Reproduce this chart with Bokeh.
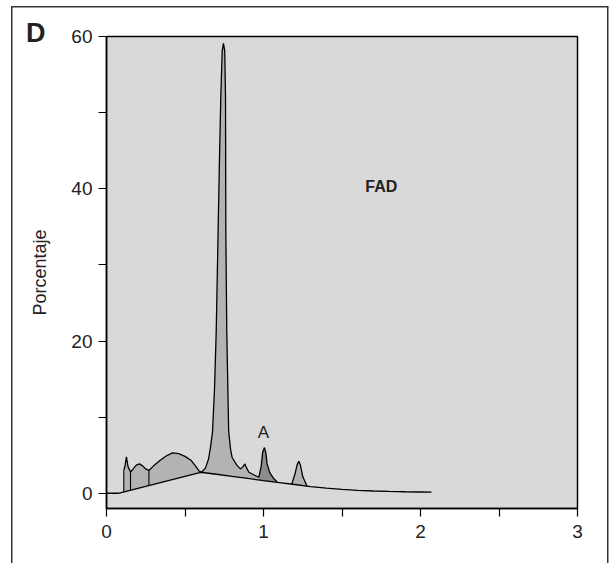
import numpy as np
from bokeh.plotting import figure
from bokeh.models import Range1d, FixedTicker, Label, Div
from bokeh.layouts import column
from bokeh.embed import file_html
from bokeh.resources import INLINE

# baseline (drawn line under the peaks)
base_x = [0.0, 0.075, 0.60, 0.70, 0.80, 0.90, 1.00, 1.10, 1.20, 1.30, 1.40, 1.50, 1.60, 1.70, 1.80, 1.90, 2.00, 2.07]
base_y = [0.0, 0.0, 2.76, 2.50, 2.22, 1.95, 1.65, 1.40, 1.15, 0.88, 0.68, 0.50, 0.38, 0.30, 0.24, 0.20, 0.17, 0.15]

# peak segments (x, top of curve)
seg1_x = [0.110, 0.118, 0.127, 0.137, 0.153]
seg1_y = [3.0, 3.6, 4.8, 3.5, 2.8]
seg2_x = [0.153, 0.17, 0.19, 0.21, 0.23, 0.25, 0.27]
seg2_y = [2.8, 3.2, 3.7, 3.86, 3.6, 3.2, 3.0]
seg3_x = [0.27, 0.30, 0.34, 0.38, 0.42, 0.46, 0.50, 0.54, 0.57, 0.59, 0.605]
seg3_y = [3.0, 3.6, 4.3, 4.9, 5.3, 5.2, 4.85, 4.3, 3.5, 2.9, 2.76]
main_x = [0.605, 0.63, 0.65, 0.662, 0.675, 0.688, 0.699, 0.711, 0.719, 0.728, 0.737, 0.745,
          0.753, 0.758, 0.760, 0.766, 0.773, 0.778, 0.79, 0.80, 0.83, 0.853, 0.87, 0.881, 0.893, 0.907, 0.94, 0.97]
main_y = [2.76, 3.3, 4.5, 6.0, 8.0, 13.7, 21.4, 34.5, 43.3, 52.0, 58.1, 59.1,
          58.1, 52.0, 34.5, 21.4, 13.7, 8.2, 5.8, 4.7, 3.7, 3.2, 3.5, 3.86, 3.3, 2.76, 2.4, 2.1]
peakA_x = [0.97, 0.985, 0.995, 1.006, 1.015, 1.023, 1.04, 1.066, 1.087]
peakA_y = [2.1, 3.5, 5.4, 6.0, 5.3, 3.86, 2.7, 1.9, 1.5]
peak6_x = [1.18, 1.20, 1.215, 1.225, 1.235, 1.25, 1.278]
peak6_y = [1.2, 2.5, 3.8, 4.2, 3.7, 2.2, 0.9]

x_ticks = [0, 1, 2, 3]
x_minor = [0.5, 1.5, 2.5]
y_ticks = [0, 20, 40, 60]
y_minor = [10, 30, 50]

LIGHT = "#b3b3b3"
DARK = "#8c8c8c"
BG = "#d9d9d9"
TXT = "#222222"

p = figure(width=615, height=563, output_backend="svg", toolbar_location=None,
           x_range=Range1d(0, 3), y_range=Range1d(-2, 60),
           min_border_left=106, min_border_right=38, min_border_top=36, min_border_bottom=55)
p.background_fill_color = BG
p.border_fill_color = None
# outer panel frame (top, left, right lines) drawn as page background behind the transparent border
p.styles = {
    "background": ("linear-gradient(#333,#333) 11px 6px / 597px 1.5px no-repeat, "
                   "linear-gradient(#333,#333) 11px 6px / 1.5px 600px no-repeat, "
                   "linear-gradient(#333,#333) 607px 6px / 1.5px 600px no-repeat, white")
}
p.outline_line_color = "black"
p.outline_line_width = 1.5
p.grid.visible = False

for ax in (p.xaxis[0], p.yaxis[0]):
    ax.axis_line_color = "black"
    ax.axis_line_width = 1.5
    ax.major_tick_line_color = "black"
    ax.minor_tick_line_color = "black"
    ax.major_tick_line_width = 1.2
    ax.minor_tick_line_width = 1.2
    ax.major_tick_out = 8
    ax.major_tick_in = 0
    ax.minor_tick_out = 8
    ax.minor_tick_in = 0
    ax.major_label_text_font = "Liberation Sans"
    ax.major_label_text_font_size = "19px"
    ax.major_label_text_color = TXT

p.xaxis[0].ticker = FixedTicker(ticks=x_ticks, minor_ticks=x_minor)
p.yaxis[0].ticker = FixedTicker(ticks=y_ticks, minor_ticks=y_minor)
p.xaxis[0].major_label_standoff = 8
p.yaxis[0].major_label_standoff = 6
p.yaxis[0].axis_label = "Porcentaje"
p.yaxis[0].axis_label_text_font = "Liberation Sans"
p.yaxis[0].axis_label_text_font_style = "normal"
p.yaxis[0].axis_label_text_font_size = "18px"
p.yaxis[0].axis_label_text_color = TXT
p.yaxis[0].axis_label_standoff = 18

def base_at(xs):
    return np.interp(xs, base_x, base_y)

segments = [(seg1_x, seg1_y, LIGHT), (seg2_x, seg2_y, LIGHT), (seg3_x, seg3_y, LIGHT),
            (main_x, main_y, LIGHT), (peakA_x, peakA_y, DARK), (peak6_x, peak6_y, LIGHT)]
for sx, sy, col in segments:
    sx = np.array(sx)
    p.varea(x=sx, y1=base_at(sx), y2=sy, fill_color=col)

# curve outline
curve_x = seg1_x + seg2_x[1:] + seg3_x[1:] + main_x[1:] + peakA_x[1:]
curve_y = seg1_y + seg2_y[1:] + seg3_y[1:] + main_y[1:] + peakA_y[1:]
p.line(curve_x, curve_y, line_color="black", line_width=1.3)
p.line(peak6_x, peak6_y, line_color="black", line_width=1.3)
p.line(base_x, base_y, line_color="black", line_width=1.3)

# separators between first segments
sep_x = [seg1_x[0], seg2_x[0], seg3_x[0]]
sep_top = [seg1_y[0], seg2_y[0], seg3_y[0]]
p.segment(x0=sep_x, x1=sep_x, y0=list(base_at(sep_x)), y1=sep_top, line_color="black", line_width=1.1)

p.add_layout(Label(x=1.75, y=40.3, text="FAD", text_font="Liberation Sans", text_font_style="bold",
                   text_font_size="16px", text_align="center", text_baseline="middle", text_color=TXT))
p.add_layout(Label(x=1.0, y=8.0, text="A", text_font="Liberation Sans",
                   text_font_size="17px", text_align="center", text_baseline="middle", text_color=TXT))

# panel letter, floated (out of flow) over the figure's top-left corner
panel_letter = Div(text="D", width=40, height=0,
                   styles={"position": "absolute", "left": "21px", "top": "15px", "z-index": "5",
                           "overflow": "visible", "font-family": "Liberation Sans", "font-weight": "bold",
                           "font-size": "27px", "line-height": "1", "color": TXT})

layout = column(panel_letter, p, spacing=0)
open("out.html", "w").write(file_html(layout, INLINE))
